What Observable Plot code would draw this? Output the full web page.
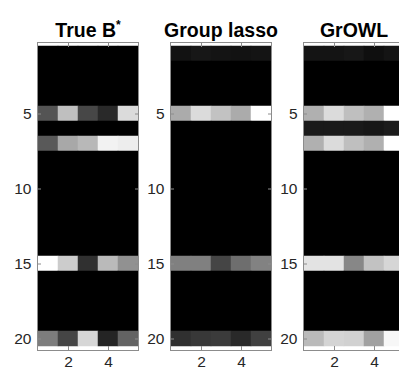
<!DOCTYPE html>
<html>
<head>
<meta charset="utf-8">
<script src="https://cdn.jsdelivr.net/npm/d3@7"></script>
<script src="https://cdn.jsdelivr.net/npm/@observablehq/plot@0.6"></script>
<style>
  html, body { margin: 0; padding: 0; background: #fff; overflow: hidden; width: 399px; height: 372px; }
</style>
</head>
<body>
<div id="chart"></div>
<script>
const methods = ["True B*", "Group lasso", "GrOWL"];
const cols = [1, 2, 3, 4, 5];
const rows = d3.range(1, 21);
const xTicks = [2, 4];
const yTicks = [5, 10, 15, 20];

// gray intensity (0 = black, 1 = white), rows 1..20, columns 1..5
const trueB = [
  [0, 0, 0, 0, 0],
  [0, 0, 0, 0, 0],
  [0, 0, 0, 0, 0],
  [0, 0, 0, 0, 0],
  [0.33, 0.75, 0.28, 0.16, 0.86],
  [0, 0, 0, 0, 0],
  [0.35, 0.66, 0.72, 0.95, 0.93],
  [0, 0, 0, 0, 0],
  [0, 0, 0, 0, 0],
  [0, 0, 0, 0, 0],
  [0, 0, 0, 0, 0],
  [0, 0, 0, 0, 0],
  [0, 0, 0, 0, 0],
  [0, 0, 0, 0, 0],
  [1.00, 0.80, 0.19, 0.73, 0.57],
  [0, 0, 0, 0, 0],
  [0, 0, 0, 0, 0],
  [0, 0, 0, 0, 0],
  [0, 0, 0, 0, 0],
  [0.49, 0.27, 0.84, 0.14, 0.39]
];
const groupLasso = [
  [0.07, 0.09, 0.08, 0.07, 0.08],
  [0, 0, 0, 0, 0],
  [0, 0, 0, 0, 0],
  [0, 0, 0, 0, 0],
  [0.67, 0.86, 0.76, 0.67, 1.00],
  [0, 0, 0, 0, 0],
  [0, 0, 0, 0, 0],
  [0, 0, 0, 0, 0],
  [0, 0, 0, 0, 0],
  [0, 0, 0, 0, 0],
  [0, 0, 0, 0, 0],
  [0, 0, 0, 0, 0],
  [0, 0, 0, 0, 0],
  [0, 0, 0, 0, 0],
  [0.50, 0.50, 0.27, 0.43, 0.51],
  [0, 0, 0, 0, 0],
  [0, 0, 0, 0, 0],
  [0, 0, 0, 0, 0],
  [0, 0, 0, 0, 0],
  [0.19, 0.22, 0.23, 0.16, 0.25]
];
const growl = [
  [0.08, 0.08, 0.09, 0.06, 0.08],
  [0, 0, 0, 0, 0],
  [0, 0, 0, 0, 0],
  [0, 0, 0, 0, 0],
  [0.69, 0.86, 0.75, 0.69, 1.00],
  [0.10, 0.10, 0.10, 0.09, 0.11],
  [0.69, 0.86, 0.75, 0.69, 1.00],
  [0, 0, 0, 0, 0],
  [0, 0, 0, 0, 0],
  [0, 0, 0, 0, 0],
  [0, 0, 0, 0, 0],
  [0, 0, 0, 0, 0],
  [0, 0, 0, 0, 0],
  [0, 0, 0, 0, 0],
  [0.89, 0.89, 0.53, 0.76, 0.84],
  [0, 0, 0, 0, 0],
  [0, 0, 0, 0, 0],
  [0, 0, 0, 0, 0],
  [0, 0, 0, 0, 0],
  [0.73, 0.83, 0.82, 0.63, 0.97]
];

const matrices = [trueB, groupLasso, growl];
const data = [];
methods.forEach((m, k) => {
  matrices[k].forEach((r, i) => {
    r.forEach((v, j) => data.push({method: m, row: rows[i], col: cols[j], value: v}));
  });
});

const font = "'Liberation Sans', Arial, Helvetica, sans-serif";
const axisGray = "#8c8c8c";

const chart = Plot.plot({
  width: 410,
  height: 372,
  marginLeft: 36,
  marginRight: 6,
  marginTop: 42,
  marginBottom: 22,
  style: {maxWidth: "none", fontFamily: font, background: "#fff", overflow: "visible"},
  fx: {domain: methods, paddingInner: 0.2434, paddingOuter: 0, label: null},
  x: {type: "band", domain: cols, padding: 0},
  y: {type: "band", domain: rows, padding: 0},
  color: {type: "linear", domain: [0, 1], range: ["#000", "#fff"], interpolate: "rgb"},
  marks: [
    Plot.cell(data, {fx: "method", x: "col", y: "row", fill: "value", inset: -0.25}),
    Plot.frame({stroke: axisGray}),
    Plot.axisY({ticks: yTicks, anchor: "left", tickSize: -4, text: null, stroke: axisGray, facetAnchor: null, label: null}),
    Plot.axisY({ticks: yTicks, anchor: "right", tickSize: -4, text: null, stroke: axisGray, facetAnchor: null, label: null}),
    Plot.axisX({ticks: xTicks, anchor: "bottom", tickSize: -4, text: null, stroke: axisGray, label: null}),
    Plot.axisX({ticks: xTicks, anchor: "top", tickSize: -4, text: null, stroke: axisGray, facetAnchor: null, label: null}),
    Plot.axisY({ticks: yTicks, anchor: "left", tickSize: 0, tickPadding: 6, fontSize: 15.5, fill: "#262626", facetAnchor: null, label: null}),
    Plot.axisX({ticks: xTicks, anchor: "bottom", tickSize: 0, tickPadding: 5, fontSize: 15.5, fill: "#262626", label: null}),
    Plot.axisFx({anchor: "top", tickSize: 0, tickPadding: 6, fontSize: 19.5, fontWeight: "bold", fill: "#000", label: null})
  ]
});

document.getElementById("chart").appendChild(chart);

// render the asterisk of "True B*" as a superscript
d3.select(chart).selectAll("text").each(function() {
  if (this.textContent === "True B*") {
    const t = d3.select(this);
    t.text("True B");
    t.append("tspan").attr("font-size", "12px").attr("dy", "-0.65em").text("*");
  }
});
</script>
</body>
</html>
